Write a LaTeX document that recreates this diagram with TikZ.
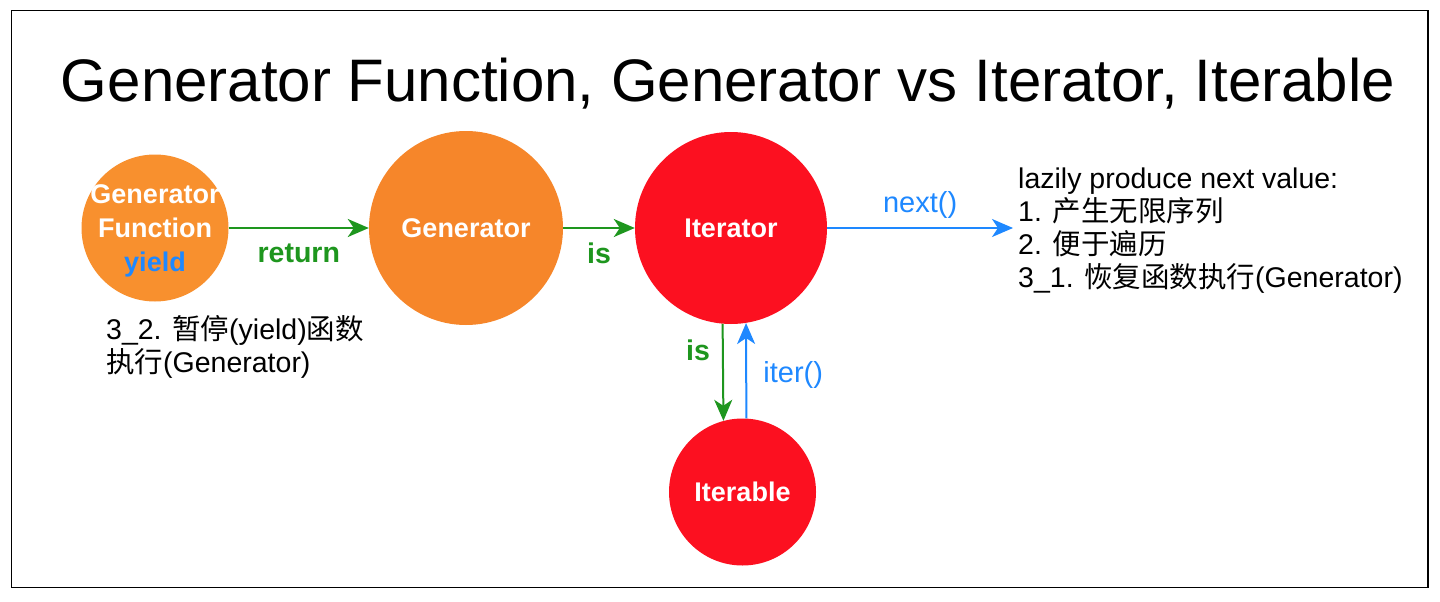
\documentclass[tikz,border=0pt]{standalone}
\usepackage{fontspec}
\setmainfont{Liberation Sans}
\newfontfamily\cjk{Noto Sans CJK SC}
\usetikzlibrary{arrows.meta}
\definecolor{orangeA}{HTML}{F8902E}
\definecolor{orangeB}{HTML}{F6862A}
\definecolor{redA}{HTML}{FC1020}
\definecolor{greenA}{HTML}{1E961E}
\definecolor{blueA}{HTML}{1E88FF}
\tikzset{
  bubble/.style={circle, draw=none, inner sep=0pt, text=white, font=\fontsize{27}{34}\selectfont\bfseries, align=center},
  tip/.style={-{Stealth[length=21pt,width=18pt,inset=6pt]}},
  garrow/.style={draw=greenA, line width=2pt, tip},
  barrow/.style={draw=blueA, line width=2pt, tip},
  glabel/.style={text=greenA, font=\fontsize{28.5}{32}\selectfont\bfseries, inner sep=0pt},
  blabel/.style={text=blueA, font=\fontsize{29}{32}\selectfont, inner sep=0pt},
  txt/.style={font=\fontsize{28.5}{33}\selectfont, inner sep=0pt, anchor=base west},
}
\begin{document}
\begin{tikzpicture}[x=1pt,y=-1pt]
\useasboundingbox (0,0) rectangle (1440,602);
\fill[white] (0,0) rectangle (1440,602);
\draw[line width=1.5pt] (11.5,10.5) rectangle (1428,587.5);
\node[font=\fontsize{60}{70}\selectfont, inner sep=0pt, anchor=base] (title) at (728,101) {Generator Function, Generator vs Iterator, Iterable};

\node[bubble, fill=orangeA, minimum size=147pt] (gf) at (155,228) {};
\node[bubble, anchor=center] (gft) at (155,231) {Generator\\Function\\\textcolor{blueA}{yield}};
\node[bubble, fill=orangeB, minimum size=194pt] (gen) at (466,228) {Generator};
\node[bubble, fill=redA, minimum size=192pt] (it) at (731,228) {Iterator};
\node[bubble, fill=redA, minimum size=147pt] (itb) at (742.5,492) {Iterable};

\draw[garrow] (gf) -- (gen) node[glabel, midway, yshift=-25pt] (lret) {return};
\draw[garrow] (gen) -- (it) node[glabel, midway, yshift=-25pt] (lis1) {is};
\coordinate (nextend) at (1013,228);
\draw[barrow] (it.east) -- (nextend) node[blabel, midway, yshift=23pt] (lnext) {next()};
\draw[garrow] (it.-95) -- (itb.105.6) node[glabel, midway, xshift=-25pt, yshift=22pt] (lis2) {is};
\draw[barrow] (itb.87.3) -- (it.-81) node[blabel, midway, xshift=47pt, yshift=-4pt] (liter) {iter()};

\node[txt] (d1) at (1018,188) {lazily produce next value:};
\node[txt] (d2) at (1018,221) {1. {\cjk 产生无限序列}};
\node[txt] (d3) at (1018,254) {2. {\cjk 便于遍历}};
\node[txt] (d4) at (1018,287) {3\_1. {\cjk 恢复函数执行}(Generator)};

\node[txt] (e1) at (106,339) {3\_2. {\cjk 暂停}(yield){\cjk 函数}};
\node[txt] (e2) at (106,372) {{\cjk 执行}(Generator)};
\end{tikzpicture}
\end{document}
